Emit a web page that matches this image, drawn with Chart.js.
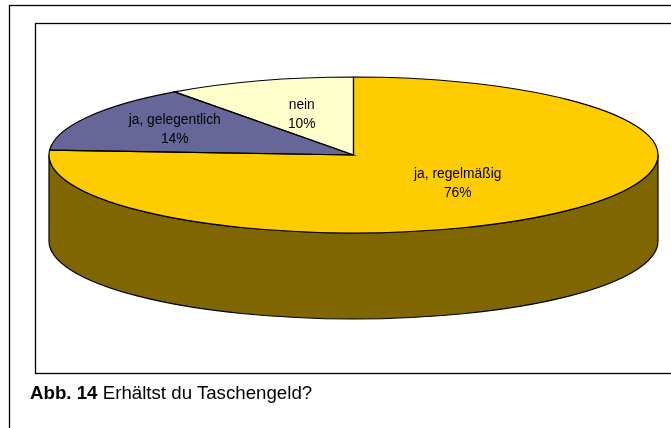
<!DOCTYPE html>
<html>
<head>
<meta charset="utf-8">
<script src="https://cdn.jsdelivr.net/npm/chart.js@4/dist/chart.umd.min.js"></script>
<style>
  body { margin: 0; background: #fff; }
  #wrap { position: relative; width: 671px; height: 428px; overflow: hidden; }
  #caption {
    position: absolute; left: 30px; top: 384px;
    font-family: "Liberation Sans", Arial, sans-serif; font-size: 18.7px;
    line-height: 18.7px; color: #000; white-space: nowrap;
  }
</style>
</head>
<body>
<div id="wrap">
  <canvas id="pie_chart" width="671" height="428"></canvas>
  <div id="caption"><b>Abb. 14</b> Erhältst du Taschengeld?</div>
</div>
<script>
const sliceLabels = ['ja, regelmäßig', 'ja, gelegentlich', 'nein'];
const slicePercents = [76, 14, 10];
const sliceColors = ['#FFCC00', '#666699', '#FFFFCC'];

// where the flattened pie sits on the page
const CX = 353.5, CY = 155, RX = 304.5, RY = 78, DEPTH = 86;
const labelRadius = [0.5, 0.67, 0.55];

function darker(hex){
    const n = parseInt(hex.slice(1), 16);
    const r = (n >> 16) >> 1, g = ((n >> 8) & 255) >> 1, b = (n & 255) >> 1;
    return 'rgb(' + r + ',' + g + ',' + b + ')';
}

function drawFrames(ctx){
    ctx.save();
    ctx.strokeStyle = '#000';
    ctx.lineWidth = 1.3;
    ctx.strokeRect(9.5, 5.5, 720, 480);
    ctx.strokeRect(35.5, 23.5, 700, 350);
    ctx.restore();
}

const pie3d = {
    id: 'pie3d',
    beforeDraw(chart){
        drawFrames(chart.ctx);
    },
    beforeDatasetsDraw(chart){
        const ctx = chart.ctx;
        const arcs = chart.getDatasetMeta(0).data;
        // front side of the disc, only the half facing us
        arcs.forEach(function(arc, i){
            let s = arc.startAngle, e = arc.endAngle;
            [0, 2 * Math.PI, -2 * Math.PI].forEach(function(shift){
                const a0 = Math.max(s + shift, 0), a1 = Math.min(e + shift, Math.PI);
                if(a1 <= a0) return;
                ctx.beginPath();
                ctx.ellipse(CX, CY, RX, RY, 0, a0, a1);
                ctx.ellipse(CX, CY + DEPTH, RX, RY, 0, a1, a0, true);
                ctx.closePath();
                ctx.fillStyle = darker(sliceColors[i]);
                ctx.fill();
                ctx.strokeStyle = '#000';
                ctx.lineWidth = 1.2;
                ctx.stroke();
            });
        });
        const a = arcs[0];
        ctx.save();
        ctx.translate(CX, CY);
        ctx.scale(RX / a.outerRadius, RY / a.outerRadius);
        ctx.translate(-a.x, -a.y);
    },
    afterDatasetsDraw(chart){
        const ctx = chart.ctx;
        ctx.restore();
        const arcs = chart.getDatasetMeta(0).data;
        ctx.save();
        ctx.strokeStyle = '#000';
        ctx.lineWidth = 1.2;
        arcs.forEach(function(arc){
            ctx.beginPath();
            ctx.moveTo(CX, CY);
            ctx.ellipse(CX, CY, RX, RY, 0, arc.startAngle, arc.endAngle);
            ctx.closePath();
            ctx.stroke();
        });
        ctx.fillStyle = '#000';
        ctx.font = '13.8px "Liberation Sans", Arial, sans-serif';
        ctx.textAlign = 'center';
        ctx.textBaseline = 'middle';
        arcs.forEach(function(arc, i){
            const mid = (arc.startAngle + arc.endAngle) / 2;
            const x = CX + RX * labelRadius[i] * Math.cos(mid);
            const y = CY + RY * labelRadius[i] * Math.sin(mid);
            ctx.fillText(sliceLabels[i], x, y - 9.5);
            ctx.fillText(slicePercents[i] + '%', x, y + 9.5);
        });
        ctx.restore();
    }
};

const chart = new Chart(document.getElementById('pie_chart').getContext('2d'), {
    type: 'pie',
    data: {
        labels: sliceLabels,
        datasets: [{
            data: slicePercents,
            backgroundColor: sliceColors,
            borderWidth: 0
        }]
    },
    options: {
        responsive: false,
        animation: false,
        events: [],
        rotation: 0,
        layout: { padding: 0 },
        plugins: {
            legend: { display: false },
            tooltip: { enabled: false }
        }
    },
    plugins: [pie3d]
});
</script>
</body>
</html>
